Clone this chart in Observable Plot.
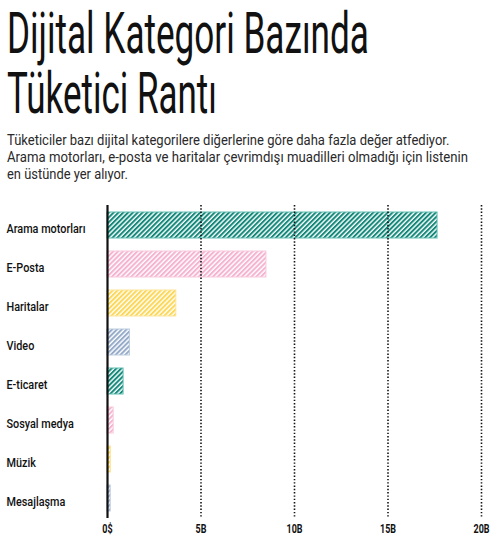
<!DOCTYPE html>
<html>
<head>
<meta charset="utf-8">
<script src="https://cdn.jsdelivr.net/npm/d3@7"></script>
<script src="https://cdn.jsdelivr.net/npm/@observablehq/plot@0.6"></script>
<style>
  html, body { margin: 0; padding: 0; background: #fff; }
  #header { display: block; overflow: visible; }
  #chart svg { display: block; }
</style>
</head>
<body>
<svg id="header" width="500" height="195"></svg>
<div id="chart"></div>
<script>
// ---- data ----
const titleLines = ["Dijital Kategori Bazında", "Tüketici Rantı"];
const subtitleLines = [
  "Tüketiciler bazı dijital kategorilere diğerlerine göre daha fazla değer atfediyor.",
  "Arama motorları, e-posta ve haritalar çevrimdışı muadilleri olmadığı için listenin",
  "en üstünde yer alıyor."
];
const categories = ["Arama motorları", "E-Posta", "Haritalar", "Video", "E-ticaret", "Sosyal medya", "Müzik", "Mesajlaşma"];
const values = [17.65, 8.5, 3.68, 1.2, 0.86, 0.33, 0.18, 0.17];
const palette = ["#14897b", "#f5b3d0", "#fdd756", "#94aac8"];
const borders = ["#62bdb2", "#f8c9dd", "#fde59a", "#bccbdf"];
const tickValues = [0, 5, 10, 15, 20];
const tickLabels = ["0$", "5B", "10B", "15B", "20B"];
const gridValues = [5, 10, 15, 20];

const data = categories.map((c, i) => ({
  category: c,
  value: values[i],
  fill: `url(#stripe${i % palette.length})`,
  stroke: borders[i % borders.length]
}));

// ---- header ----
const header = d3.select("#header");
// draw a line of text and squeeze it horizontally to a target width
function squeezedLine(txt, x, y, width, fontSize, weight, color) {
  const g = header.append("g");
  const t = g.append("text")
    .attr("x", 0).attr("y", 0)
    .attr("font-family", "Roboto, 'Noto Sans', sans-serif")
    .attr("font-weight", weight)
    .attr("font-size", fontSize)
    .attr("fill", color)
    .text(txt);
  const natural = t.node().getComputedTextLength();
  const sx = Math.min(1.15, width / natural);
  g.attr("transform", `translate(${x},${y}) scale(${sx},1)`);
}
const titleWidths = [362, 210];
const titleBaselines = [53.3, 113.3];
titleLines.forEach((t, i) => squeezedLine(t, 7, titleBaselines[i], titleWidths[i], 57, 400, "#111"));
const subWidths = [443, 461, 121];
const subBaselines = [145, 161.8, 178.5];
subtitleLines.forEach((t, i) => squeezedLine(t, 7, subBaselines[i], subWidths[i], 14.3, 400, "#2a2a2a"));

// ---- chart ----
function defsMark() {
  const defs = d3.create("svg:defs");
  palette.forEach((col, i) => {
    const p = defs.append("pattern")
      .attr("id", `stripe${i}`)
      .attr("patternUnits", "userSpaceOnUse")
      .attr("width", 3.4).attr("height", 3.4)
      .attr("patternTransform", "rotate(45)");
    p.append("rect").attr("width", 3.4).attr("height", 3.4).attr("fill", "#fff");
    p.append("rect").attr("width", 2).attr("height", 3.4).attr("fill", col);
  });
  return defs.node();
}

const chart = Plot.plot({
  width: 500,
  height: 352,
  marginTop: 10,
  marginBottom: 29,
  marginLeft: 107,
  marginRight: 19,
  style: { fontFamily: "Roboto, 'Noto Sans', sans-serif", background: "#fff", color: "#111" },
  x: { domain: [0, 20], axis: null, label: null },
  y: { domain: categories, paddingInner: 0.34, paddingOuter: 0.15, axis: null, label: null },
  color: { type: "identity" },
  marks: [
    defsMark,
    Plot.barX(data, { y: "category", x: "value", fill: "fill", stroke: "stroke", strokeWidth: 1 }),
    Plot.ruleX(gridValues, { stroke: "#111", strokeWidth: 1.6, strokeDasharray: "1.4,1.9" }),
    Plot.ruleX([0], { stroke: "#111", strokeWidth: 2.2 }),
    Plot.axisX(tickValues, {
      ticks: tickValues, tickSize: 0, tickPadding: 6, label: null,
      tickFormat: (d) => tickLabels[tickValues.indexOf(d)],
      fontSize: 12, fontWeight: 700, fill: "#111", className: "xlab"
    }),
    Plot.text(data, {
      y: "category", text: "category", frameAnchor: "left", textAnchor: "start",
      dx: -101, dy: 3, fontSize: 13.5, fontWeight: 500, fill: "#111", className: "ylab"
    })
  ]
});
document.getElementById("chart").appendChild(chart);

// compress chart labels to a condensed look (real text kept)
function condense(selector, refText, targetWidth) {
  const nodes = Array.from(chart.querySelectorAll(selector + " text"));
  const ref = nodes.find(n => n.textContent === refText);
  if (!ref) return;
  const factor = targetWidth / ref.getComputedTextLength();
  nodes.forEach(n => {
    const len = n.getComputedTextLength();
    n.setAttribute("textLength", len * factor);
    n.setAttribute("lengthAdjust", "spacingAndGlyphs");
  });
}
condense(".ylab", "Arama motorları", 79);
condense(".xlab", "10B", 16);
</script>
</body>
</html>
